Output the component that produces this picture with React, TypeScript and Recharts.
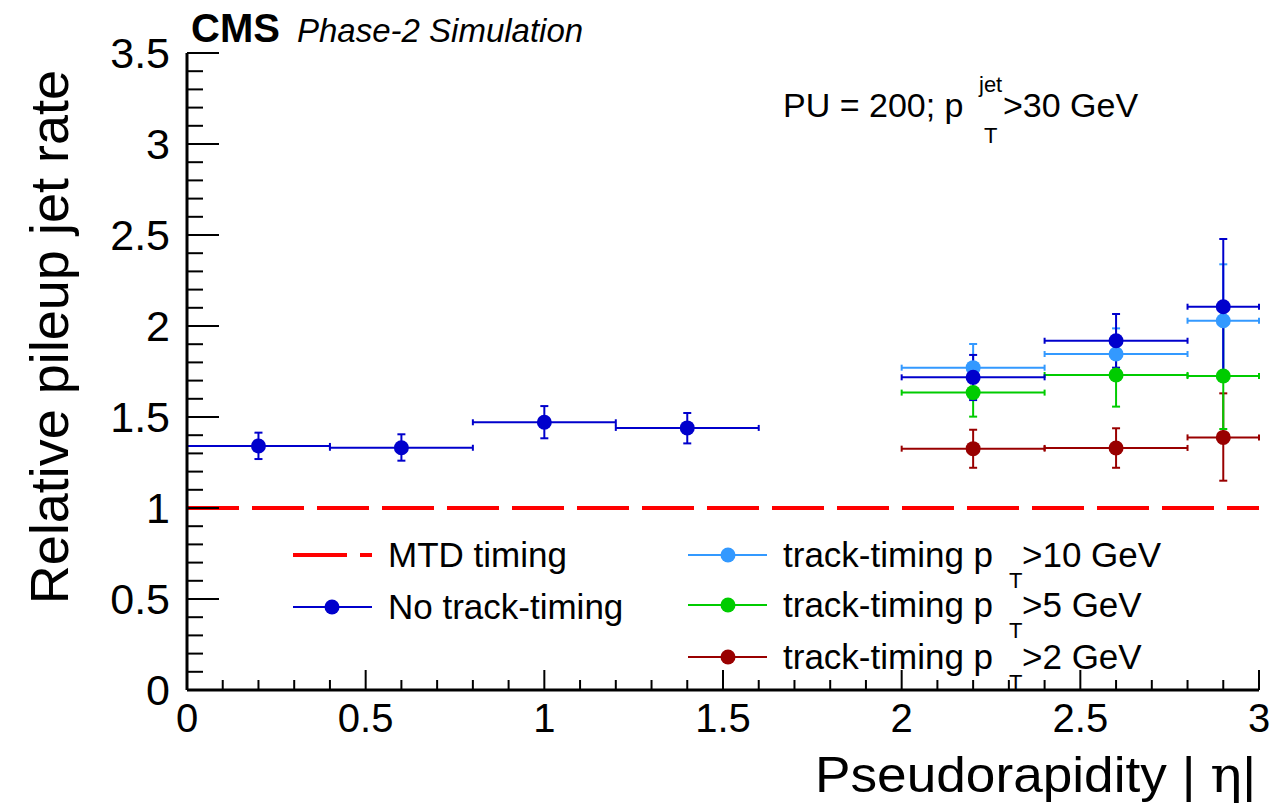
import React from 'react';
import { ScatterChart, Scatter, XAxis, YAxis, ErrorBar, ReferenceLine } from 'recharts';

// pseudorapidity bins (centre, half width)
const etaAll = [0.2, 0.6, 1.0, 1.4, 2.2, 2.6, 2.9];
const etaHalfAll = [0.2, 0.2, 0.2, 0.2, 0.2, 0.2, 0.1];
const etaFwd = [2.2, 2.6, 2.9];
const etaHalfFwd = [0.2, 0.2, 0.1];

// No track-timing
const noTrackVal = [1.341, 1.331, 1.471, 1.44, 1.718, 1.919, 2.106];
const noTrackLo = [1.269, 1.26, 1.383, 1.355, 1.593, 1.771, 1.721];
const noTrackHi = [1.414, 1.405, 1.56, 1.522, 1.841, 2.066, 2.478];

// track-timing pT > 10 GeV
const pt10Val = [1.771, 1.846, 2.029];
const pt10Lo = [1.64, 1.705, 1.72];
const pt10Hi = [1.901, 1.987, 2.339];

// track-timing pT > 5 GeV
const pt5Val = [1.634, 1.731, 1.725];
const pt5Lo = [1.502, 1.557, 1.434];
const pt5Hi = [1.766, 1.905, 2.016];

// track-timing pT > 2 GeV
const pt2Val = [1.326, 1.33, 1.388];
const pt2Lo = [1.221, 1.221, 1.15];
const pt2Hi = [1.43, 1.438, 1.63];

const MTD_RATE = 1;

const xMajor = ['0', '0.5', '1', '1.5', '2', '2.5', '3'];
const yMajor = ['0', '0.5', '1', '1.5', '2', '2.5', '3', '3.5'];
const xTicks = Array.from({ length: 31 }, (_, i) => i / 10);
const yTicks = Array.from({ length: 36 }, (_, i) => i / 10);

const FONT = '"Liberation Sans", Arial, Helvetica, sans-serif';

const build = (xs: number[], hw: number[], v: number[], lo: number[], hi: number[]) =>
  xs.map((x, i) => ({ x, y: v[i], ex: [hw[i], hw[i]], ey: [v[i] - lo[i], hi[i] - v[i]] }));

const series = [
  { name: 'pt2', color: '#990000', data: build(etaFwd, etaHalfFwd, pt2Val, pt2Lo, pt2Hi) },
  { name: 'pt5', color: '#00cc00', data: build(etaFwd, etaHalfFwd, pt5Val, pt5Lo, pt5Hi) },
  { name: 'pt10', color: '#3399ff', data: build(etaFwd, etaHalfFwd, pt10Val, pt10Lo, pt10Hi) },
  { name: 'none', color: '#0000cc', data: build(etaAll, etaHalfAll, noTrackVal, noTrackLo, noTrackHi) },
];

const isMajor = (v: number) => Math.abs(v * 2 - Math.round(v * 2)) < 1e-6;
const label = (v: number, list: string[]) => list.find(s => Math.abs(parseFloat(s) - v) < 1e-6);

const BottomTick = (p: any) => {
  const v = p.payload.value;
  const major = isMajor(v);
  return (
    <g>
      <line x1={p.x} x2={p.x} y1={p.y} y2={p.y - (major ? 20 : 10)} stroke="#000" strokeWidth={2} />
      {major && (
        <text x={p.x} y={p.y + 42} textAnchor="middle" fontSize={40} fontFamily={FONT} fill="#000">
          {label(v, xMajor)}
        </text>
      )}
    </g>
  );
};

const TopTick = (p: any) => {
  const major = isMajor(p.payload.value);
  return <line x1={p.x} x2={p.x} y1={p.y} y2={p.y + (major ? 20 : 10)} stroke="#000" strokeWidth={2} />;
};

const LeftTick = (p: any) => {
  const v = p.payload.value;
  const major = isMajor(v);
  return (
    <g>
      <line x1={p.x} x2={p.x + (major ? 32 : 16)} y1={p.y} y2={p.y} stroke="#000" strokeWidth={2} />
      {major && (
        <text x={p.x - 17} y={p.y + 15} textAnchor="end" fontSize={43} fontFamily={FONT} fill="#000">
          {label(v, yMajor)}
        </text>
      )}
    </g>
  );
};

const RightTick = (p: any) => {
  const major = isMajor(p.payload.value);
  return <line x1={p.x} x2={p.x - (major ? 32 : 16)} y1={p.y} y2={p.y} stroke="#000" strokeWidth={2} />;
};

const dot = (color: string) => (p: any) => <circle cx={p.cx} cy={p.cy} r={7.5} fill={color} />;

const legendRows = [
  { color: '#3399ff', cut: '>10 GeV', y: 555 },
  { color: '#00cc00', cut: '>5 GeV', y: 605 },
  { color: '#990000', cut: '>2 GeV', y: 657 },
];

export default function App() {
  const frame = { stroke: '#000', strokeWidth: 3 };
  return (
    <div style={{ position: 'absolute', left: 0, top: 0, width: 1286, height: 803, background: '#fff' }}>
      <ScatterChart width={1286} height={803} margin={{ top: 53, right: 27, bottom: 0, left: 0 }}>
        <XAxis xAxisId="b" type="number" dataKey="x" domain={[0, 3]} ticks={xTicks} interval={0}
          orientation="bottom" height={113} tickSize={0} tickMargin={0} tickLine={false}
          axisLine={frame} tick={<BottomTick />} allowDataOverflow />
        <XAxis xAxisId="t" type="number" domain={[0, 3]} ticks={xTicks} interval={0}
          orientation="top" height={0} tickSize={0} tickMargin={0} tickLine={false}
          axisLine={frame} tick={<TopTick />} allowDataOverflow />
        <YAxis yAxisId="l" type="number" dataKey="y" domain={[0, 3.5]} ticks={yTicks} interval={0}
          orientation="left" width={187} tickSize={0} tickMargin={0} tickLine={false}
          axisLine={frame} tick={<LeftTick />} allowDataOverflow />
        <YAxis yAxisId="r" type="number" domain={[0, 3.5]} ticks={yTicks} interval={0}
          orientation="right" width={0} tickSize={0} tickMargin={0} tickLine={false}
          axisLine={frame} tick={<RightTick />} allowDataOverflow />
        <ReferenceLine xAxisId="b" yAxisId="l" y={MTD_RATE} stroke="#ff0000" strokeWidth={4} strokeDasharray="52 13" />
        {series.map(s => (
          <Scatter key={s.name} xAxisId="b" yAxisId="l" data={s.data} fill={s.color}
            shape={dot(s.color)} isAnimationActive={false}>
            <ErrorBar dataKey="ex" direction="x" width={3} stroke={s.color} strokeWidth={2} isAnimationActive={false} />
            <ErrorBar dataKey="ey" direction="y" width={4} stroke={s.color} strokeWidth={2} isAnimationActive={false} />
          </Scatter>
        ))}
      </ScatterChart>

      <svg width={1286} height={803} style={{ position: 'absolute', left: 0, top: 0, pointerEvents: 'none' }}
        fontFamily={FONT}>
        <text x={191} y={42} fontSize={40} fontWeight="bold">CMS</text>
        <text x={297} y={42} fontSize={33} fontStyle="italic">Phase-2 Simulation</text>

        <text x={783} y={117} fontSize={34}>PU = 200; p</text>
        <text x={979} y={92} fontSize={22}>jet</text>
        <text x={984} y={143} fontSize={22}>T</text>
        <text x={1003} y={117} fontSize={34}>&gt;30 GeV</text>

        <text transform="translate(68,70) rotate(-90)" textAnchor="end" fontSize={54}>Relative pileup jet rate</text>
        <text x={815} y={792} fontSize={50} textLength={441} lengthAdjust="spacingAndGlyphs">
          Pseudorapidity | <tspan fontFamily='"DejaVu Serif", "Liberation Serif", serif'>η</tspan>|
        </text>

        {/* legend, left column */}
        <line x1={293} x2={347} y1={555} y2={555} stroke="#ff0000" strokeWidth={4} />
        <line x1={360} x2={372} y1={555} y2={555} stroke="#ff0000" strokeWidth={4} />
        <text x={388} y={567} fontSize={35}>MTD timing</text>
        <line x1={293} x2={372} y1={607} y2={607} stroke="#0000cc" strokeWidth={2} />
        <circle cx={332} cy={607} r={7.5} fill="#0000cc" />
        <text x={388} y={619} fontSize={35}>No track-timing</text>

        {/* legend, right column */}
        {legendRows.map(r => (
          <g key={r.cut}>
            <line x1={688} x2={767} y1={r.y} y2={r.y} stroke={r.color} strokeWidth={2} />
            <circle cx={728} cy={r.y} r={7.5} fill={r.color} />
            <text x={783} y={r.y + 12} fontSize={35}>track-timing p</text>
            <text x={1009} y={r.y + 33} fontSize={22}>T</text>
            <text x={1022} y={r.y + 12} fontSize={35}>{r.cut}</text>
          </g>
        ))}
      </svg>
    </div>
  );
}
